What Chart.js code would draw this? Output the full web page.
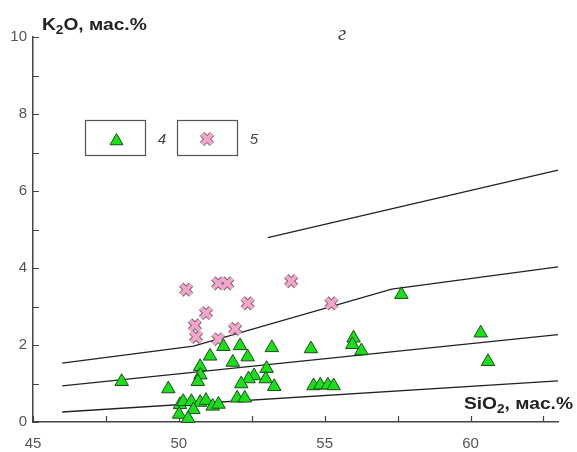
<!DOCTYPE html>
<html>
<head>
<meta charset="utf-8">
<script src="https://cdn.jsdelivr.net/npm/chart.js@4.4.0/dist/chart.umd.min.js"></script>
<style>
  html, body { margin: 0; padding: 0; background: #fff; }
</style>
</head>
<body>
<canvas id="k2o" width="577" height="452"></canvas>
<script>
// group 4 (triangles): SiO2 / K2O, wt.%
var sio2_4 = [48.04, 49.64, 51.53, 52.10, 53.19, 54.53, 55.99, 55.95, 56.26, 57.63,
              60.35, 60.60, 51.07, 51.85, 52.36, 50.73, 50.74, 50.65, 53.01, 52.58,
              52.39, 52.98, 52.14, 53.27, 54.62, 54.85, 55.11, 55.31, 52.00, 52.26,
              50.04, 50.15, 50.43, 50.73, 50.93, 51.16, 51.36, 50.50, 50.01, 50.32];
var k2o_4  = [1.05, 0.86, 1.96, 1.98, 1.93, 1.90, 2.18, 2.01, 1.85, 3.31,
              2.31, 1.57, 1.71, 1.55, 1.69, 1.44, 1.22, 1.05, 1.39, 1.20,
              1.12, 1.12, 0.99, 0.92, 0.94, 0.96, 0.96, 0.94, 0.62, 0.62,
              0.45, 0.53, 0.53, 0.51, 0.56, 0.41, 0.46, 0.32, 0.20, 0.09];

// group 5 (crosses)
var sio2_5 = [50.25, 51.35, 51.66, 52.36, 53.85, 55.23, 50.93, 50.55, 50.59, 51.35, 51.93];
var k2o_5  = [3.44, 3.60, 3.60, 3.08, 3.66, 3.08, 2.83, 2.51, 2.21, 2.15, 2.42];

// series boundary lines
var lineLowX  = [46, 63];
var lineLowY  = [0.26, 1.07];
var lineMidX  = [46, 63];
var lineMidY  = [0.94, 2.27];
var lineHighX = [46, 50.5, 57.3, 63];
var lineHighY = [1.53, 1.97, 3.45, 4.03];
var lineTopX  = [53.05, 63];
var lineTopY  = [4.79, 6.54];

var xTickLabels = [45, 50, 55, 60];
var yTickLabels = [0, 2, 4, 6, 8, 10];

function pts(xs, ys) {
  return xs.map(function (x, i) { return { x: x, y: ys[i] }; });
}

function lineSet(xs, ys) {
  return {
    data: pts(xs, ys),
    showLine: true,
    borderColor: '#222',
    borderWidth: 1.3,
    pointRadius: 0,
    fill: false,
    clip: false
  };
}

var SANS = '"Liberation Sans", Arial, sans-serif';

// inward tick marks on both axes
var innerTicks = {
  id: 'innerTicks',
  beforeDatasetsDraw: function (chart) {
    var ctx = chart.ctx, a = chart.chartArea;
    var xs = chart.scales.x, ys = chart.scales.y;
    ctx.save();
    ctx.strokeStyle = '#444';
    ctx.lineWidth = 1.2;
    ctx.beginPath();
    xs.ticks.forEach(function (t) {
      var px = Math.round(xs.getPixelForValue(t.value)) + 0.5;
      ctx.moveTo(px, a.bottom);
      ctx.lineTo(px, a.bottom - 6);
    });
    ys.ticks.forEach(function (t) {
      var py = Math.round(ys.getPixelForValue(t.value)) + 0.5;
      ctx.moveTo(a.left, py);
      ctx.lineTo(a.left + 6, py);
    });
    ctx.stroke();
    ctx.restore();
  }
};

// bold label with a subscript, stretched a little horizontally
var STRETCH = 1.13;
function subText(ctx, parts, x, y) {
  ctx.save();
  ctx.translate(x, y);
  ctx.scale(STRETCH, 1);
  var cx = 0;
  parts.forEach(function (p) {
    ctx.font = p[1] ? 'bold 12px ' + SANS : 'bold 17px ' + SANS;
    ctx.fillText(p[0], cx, p[1] ? 4 : 0);
    cx += ctx.measureText(p[0]).width;
  });
  ctx.restore();
}

function subWidth(ctx, parts) {
  var w = 0;
  parts.forEach(function (p) {
    ctx.font = p[1] ? 'bold 12px ' + SANS : 'bold 17px ' + SANS;
    w += ctx.measureText(p[0]).width;
  });
  return w * STRETCH;
}

function drawTriangle(ctx, x, y, r) {
  ctx.beginPath();
  for (var i = 0; i < 3; i++) {
    var a = i * 2 * Math.PI / 3;
    var px = x + Math.sin(a) * r, py = y - Math.cos(a) * r;
    if (i === 0) ctx.moveTo(px, py); else ctx.lineTo(px, py);
  }
  ctx.closePath();
  ctx.fillStyle = '#19e019';
  ctx.strokeStyle = '#1d4a1d';
  ctx.lineWidth = 1;
  ctx.fill();
  ctx.stroke();
}

function drawCross(ctx, x, y, d) {
  [['#7a6474', 6], ['#f3a6c9', 4]].forEach(function (s) {
    ctx.beginPath();
    ctx.moveTo(x - d, y - d); ctx.lineTo(x + d, y + d);
    ctx.moveTo(x - d, y + d); ctx.lineTo(x + d, y - d);
    ctx.strokeStyle = s[0];
    ctx.lineWidth = s[1];
    ctx.stroke();
  });
}

// axis titles, panel letter and legend boxes
var annotations = {
  id: 'annotations',
  afterDraw: function (chart) {
    var ctx = chart.ctx;
    ctx.save();
    ctx.fillStyle = '#222';
    ctx.textBaseline = 'alphabetic';
    ctx.textAlign = 'left';
    subText(ctx, [['K', false], ['2', true], ['O, мас.%', false]], 42, 30);

    var siParts = [['SiO', false], ['2', true], [', мас.%', false]];
    subText(ctx, siParts, 573 - subWidth(ctx, siParts), 409);

    ctx.font = 'italic 21px "Liberation Serif", "Times New Roman", serif';
    ctx.fillStyle = '#444';
    ctx.textAlign = 'center';
    ctx.fillText('г', 342, 40);

    // legend
    ctx.strokeStyle = '#555';
    ctx.lineWidth = 1.2;
    ctx.strokeRect(85.5, 120.5, 60, 35);
    ctx.strokeRect(177.5, 120.5, 60, 35);
    drawTriangle(ctx, 116.5, 141, 7.5);
    drawCross(ctx, 207, 139, 5);

    ctx.font = 'italic 15px ' + SANS;
    ctx.fillStyle = '#444';
    ctx.textAlign = 'center';
    ctx.textBaseline = 'middle';
    ctx.fillText('4', 162, 140);
    ctx.fillText('5', 254, 140);
    ctx.restore();
  }
};

var ctx = document.getElementById('k2o').getContext('2d');
var chart = new Chart(ctx, {
  type: 'scatter',
  data: {
    datasets: [
      {
        label: '4',
        data: pts(sio2_4, k2o_4),
        pointStyle: 'triangle',
        pointRadius: 7.8,
        backgroundColor: '#19e019',
        borderColor: '#1d4a1d',
        borderWidth: 1,
        clip: false
      },
      {
        label: '5',
        data: pts(sio2_5, k2o_5),
        pointStyle: 'crossRot',
        pointRadius: 7,
        borderColor: '#f3a6c9',
        borderWidth: 4,
        clip: false
      },
      {
        label: '5 outline',
        data: pts(sio2_5, k2o_5),
        pointStyle: 'crossRot',
        pointRadius: 7,
        borderColor: '#7a6474',
        borderWidth: 6,
        clip: false
      },
      lineSet(lineLowX, lineLowY),
      lineSet(lineMidX, lineMidY),
      lineSet(lineHighX, lineHighY),
      lineSet(lineTopX, lineTopY)
    ]
  },
  options: {
    responsive: false,
    animation: false,
    layout: { padding: { top: 37, right: 19, left: 0, bottom: 0 } },
    plugins: {
      legend: { display: false },
      tooltip: { enabled: false }
    },
    scales: {
      x: {
        type: 'linear',
        min: 45,
        max: 63,
        afterFit: function (s) { s.height = 30; },
        border: { display: true, color: '#444', width: 1.5 },
        grid: { display: false, drawTicks: false },
        ticks: {
          stepSize: 2.5,
          includeBounds: false,
          autoSkip: false,
          maxRotation: 0,
          padding: 13,
          color: '#555',
          font: { family: SANS, size: 15 },
          callback: function (v) { return xTickLabels.indexOf(v) >= 0 ? String(v) : ''; }
        }
      },
      y: {
        type: 'linear',
        min: 0,
        max: 10,
        afterFit: function (s) { s.width = 33; },
        border: { display: true, color: '#444', width: 1.5 },
        grid: { display: false, drawTicks: false },
        ticks: {
          stepSize: 1,
          autoSkip: false,
          padding: 6,
          color: '#555',
          font: { family: SANS, size: 15 },
          callback: function (v) { return yTickLabels.indexOf(v) >= 0 ? String(v) : ''; }
        }
      }
    }
  },
  plugins: [innerTicks, annotations]
});
</script>
</body>
</html>
